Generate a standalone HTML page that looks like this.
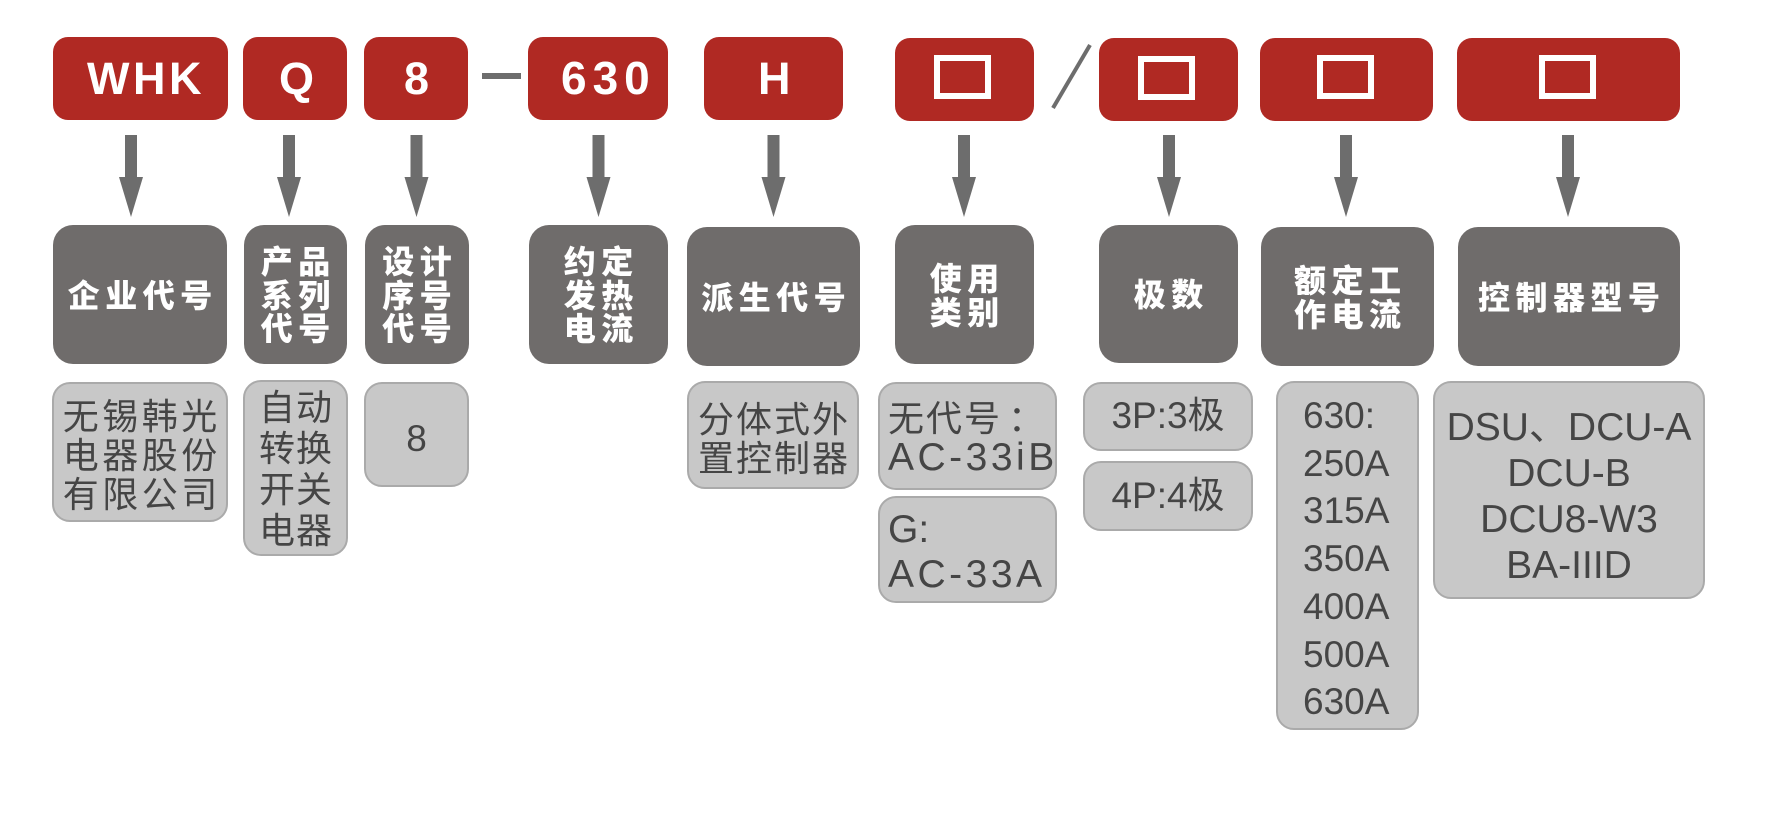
<!DOCTYPE html>
<html>
<head>
<meta charset="utf-8">
<style>
  html, body { margin:0; padding:0; }
  body { width:1765px; height:816px; background:#ffffff; position:relative; overflow:hidden; }
  .r { position:absolute; background:#b02923; border-radius:15px; }
  .sq { position:absolute; width:57px; height:44px; border:6px solid #ffffff; box-sizing:border-box; }
  .rt { position:absolute; white-space:nowrap; color:#ffffff; font-family:"Liberation Sans", sans-serif; font-weight:bold; font-size:45px; line-height:45px; }
  .g { position:absolute; background:#6f6c6b; border-radius:20px; display:flex; align-items:center; justify-content:center; color:#ffffff;
       font-family:"Noto Sans CJK SC", "WenQuanYi Zen Hei", sans-serif; font-weight:900; font-size:32px; line-height:33.5px;
       letter-spacing:5.5px; text-align:center; padding-left:5.5px; box-sizing:border-box; }
  .l { position:absolute; background:#c8c8c8; border:2px solid #aaaaaa; border-radius:18px; box-sizing:border-box; }
  .t { position:absolute; white-space:nowrap; color:#454545; }
  .cjk { font-family:"Noto Sans CJK SC", "WenQuanYi Zen Hei", sans-serif; font-size:36px; }
  .lat { font-family:"Liberation Sans", "Noto Sans CJK SC", sans-serif; }
</style>
</head>
<body>

<!-- connectors -->
<svg width="1765" height="816" style="position:absolute;left:0;top:0" xmlns="http://www.w3.org/2000/svg">
  <g fill="#6d6d6d">
    <rect x="482" y="73" width="39" height="6"/>
    <line x1="1090" y1="45" x2="1053" y2="108" stroke="#6d6d6d" stroke-width="4"/>
    <rect x="125" y="135" width="12" height="43"/><polygon points="119,177 143,177 131,217"/>
    <rect x="283" y="135" width="12" height="43"/><polygon points="277,177 301,177 289,217"/>
    <rect x="410.5" y="135" width="12" height="43"/><polygon points="404.5,177 428.5,177 416.5,217"/>
    <rect x="592.5" y="135" width="12" height="43"/><polygon points="586.5,177 610.5,177 598.5,217"/>
    <rect x="767.5" y="135" width="12" height="43"/><polygon points="761.5,177 785.5,177 773.5,217"/>
    <rect x="958" y="135" width="12" height="43"/><polygon points="952,177 976,177 964,217"/>
    <rect x="1163" y="135" width="12" height="43"/><polygon points="1157,177 1181,177 1169,217"/>
    <rect x="1340" y="135" width="12" height="43"/><polygon points="1334,177 1358,177 1346,217"/>
    <rect x="1562" y="135" width="12" height="43"/><polygon points="1556,177 1580,177 1568,217"/>
  </g>
</svg>

<!-- red code boxes -->
<div class="r" style="left:53px;top:37px;width:175px;height:83px"></div>
<div class="r" style="left:243px;top:37px;width:104px;height:83px"></div>
<div class="r" style="left:364px;top:37px;width:104px;height:83px"></div>
<div class="r" style="left:528px;top:37px;width:140px;height:83px"></div>
<div class="r" style="left:704px;top:37px;width:139px;height:83px"></div>
<div class="r" style="left:895px;top:38px;width:139px;height:83px"></div>
<div class="r" style="left:1099px;top:38px;width:139px;height:83px"></div>
<div class="r" style="left:1260px;top:38px;width:173px;height:83px"></div>
<div class="r" style="left:1457px;top:38px;width:223px;height:83px"></div>

<div class="rt" style="left:87px;top:56px;letter-spacing:3.5px">WHK</div>
<div class="rt" style="left:279px;top:56px">Q</div>
<div class="rt" style="left:404px;top:56px">8</div>
<div class="rt" style="left:561px;top:55px;font-size:46px;line-height:46px;letter-spacing:6px">630</div>
<div class="rt" style="left:758px;top:56px">H</div>

<div class="sq" style="left:934px;top:55px"></div>
<div class="sq" style="left:1138px;top:56px"></div>
<div class="sq" style="left:1317px;top:55px"></div>
<div class="sq" style="left:1539px;top:55px"></div>

<!-- dark gray label boxes -->
<div class="g" style="left:53px;top:225px;width:174px;height:139px"><div>企业代号</div></div>
<div class="g" style="left:244px;top:225px;width:103px;height:139px"><div>产品<br>系列<br>代号</div></div>
<div class="g" style="left:365px;top:225px;width:104px;height:139px"><div>设计<br>序号<br>代号</div></div>
<div class="g" style="left:529px;top:225px;width:139px;height:139px"><div>约定<br>发热<br>电流</div></div>
<div class="g" style="left:687px;top:227px;width:173px;height:139px"><div>派生代号</div></div>
<div class="g" style="left:895px;top:225px;width:139px;height:139px"><div>使用<br>类别</div></div>
<div class="g" style="left:1099px;top:225px;width:139px;height:138px"><div>极数</div></div>
<div class="g" style="left:1261px;top:227px;width:173px;height:139px"><div>额定工<br>作电流</div></div>
<div class="g" style="left:1458px;top:227px;width:222px;height:139px"><div>控制器型号</div></div>

<!-- light gray value boxes -->
<div class="l" style="left:52px;top:382px;width:176px;height:140px"></div>
<div class="l" style="left:243px;top:380px;width:105px;height:176px"></div>
<div class="l" style="left:364px;top:382px;width:105px;height:105px"></div>
<div class="l" style="left:687px;top:381px;width:172px;height:108px"></div>
<div class="l" style="left:878px;top:382px;width:179px;height:108px"></div>
<div class="l" style="left:878px;top:496px;width:179px;height:107px"></div>
<div class="l" style="left:1083px;top:382px;width:170px;height:69px"></div>
<div class="l" style="left:1083px;top:461px;width:170px;height:70px"></div>
<div class="l" style="left:1276px;top:381px;width:143px;height:349px"></div>
<div class="l" style="left:1433px;top:381px;width:272px;height:218px"></div>

<!-- light box texts -->
<div class="t cjk" style="left:52px;width:176px;text-align:center;top:394.5px;line-height:39px;letter-spacing:3.5px;padding-left:3.5px;box-sizing:border-box">无锡韩光<br>电器股份<br>有限公司</div>
<div class="t cjk" style="left:243px;width:105px;text-align:center;top:385px;line-height:41px;letter-spacing:1px;padding-left:1px;box-sizing:border-box">自动<br>转换<br>开关<br>电器</div>
<div class="t lat" style="left:364px;width:105px;text-align:center;top:420px;font-size:37px;line-height:37px">8</div>
<div class="t cjk" style="left:687px;width:172px;text-align:center;top:398px;line-height:38.5px;letter-spacing:2px;padding-left:2px;box-sizing:border-box">分体式外<br>置控制器</div>

<div class="t cjk" style="left:888px;top:397.5px;line-height:36px;letter-spacing:2px">无代号<span style="letter-spacing:0;margin-left:6px">：</span></div>
<div class="t lat" style="left:888px;top:438px;font-size:39px;line-height:39px;letter-spacing:3.5px">AC-33iB</div>
<div class="t lat" style="left:888px;top:510px;font-size:39px;line-height:39px">G:</div>
<div class="t lat" style="left:888px;top:555px;font-size:39px;line-height:39px;letter-spacing:3.5px">AC-33A</div>

<div class="t lat" style="left:1083px;width:170px;text-align:center;top:397px;font-size:37px;line-height:37px">3P:3极</div>
<div class="t lat" style="left:1083px;width:170px;text-align:center;top:477px;font-size:37px;line-height:37px">4P:4极</div>

<div class="t lat" style="left:1303px;top:392px;font-size:37px;line-height:47.7px">630:<br>250A<br>315A<br>350A<br>400A<br>500A<br>630A</div>

<div class="t lat" style="left:1433px;width:272px;text-align:center;top:404.5px;font-size:39px;line-height:46px">DSU、DCU-A<br>DCU-B<br>DCU8-W3<br>BA-IIID</div>

</body>
</html>
